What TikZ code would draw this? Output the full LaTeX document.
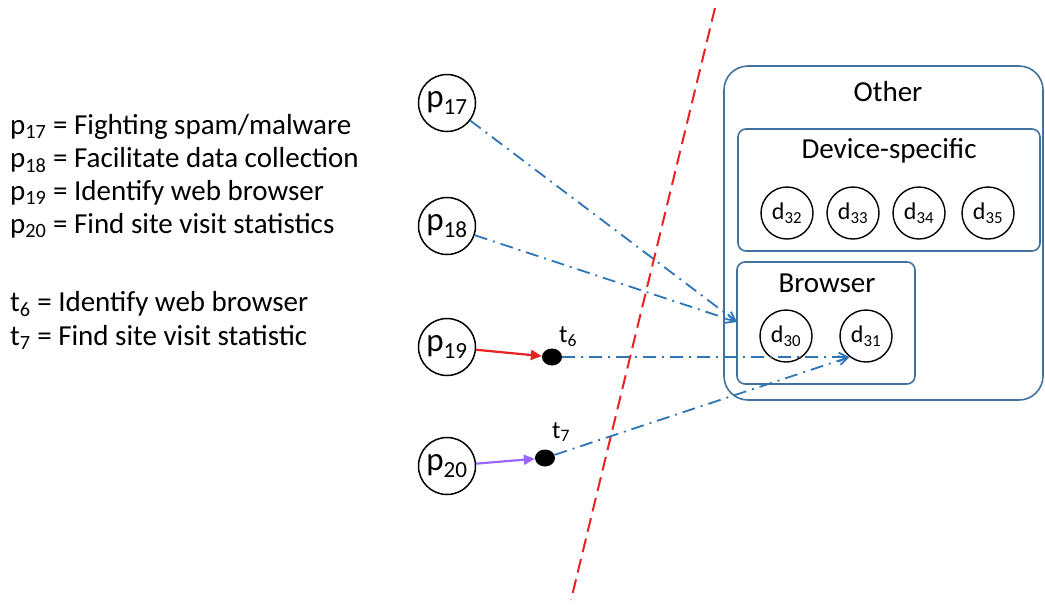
\documentclass[tikz,border=0pt]{standalone}
\usepackage{fontspec}
\setmainfont{Carlito}
\usetikzlibrary{arrows.meta,shapes.geometric}
\definecolor{boxblue}{RGB}{65,113,156}
\definecolor{lineblue}{RGB}{46,117,182}
\definecolor{redl}{RGB}{232,34,34}
\definecolor{purp}{RGB}{153,102,255}
\begin{document}
\begin{tikzpicture}[x=1pt,y=-1pt,
  pn/.style={circle,draw,line width=1.5pt,minimum size=57pt,inner sep=0pt,font=\fontsize{33}{33}\selectfont},
  dn/.style={circle,draw,line width=1.4pt,minimum size=52pt,inner sep=0pt,font=\fontsize{24}{24}\selectfont},
  tdot/.style={ellipse,fill=black,minimum width=20pt,minimum height=17pt,inner sep=0pt},
  grp/.style={draw=boxblue,line width=1.6pt,rounded corners=8pt},
  ttl/.style={font=\fontsize{29}{29}\selectfont,inner sep=0pt},
  legend/.style={anchor=base west,inner sep=0pt,font=\fontsize{29}{29}\selectfont},
  dd/.style={draw=lineblue,line width=1.8pt,dash pattern=on 13pt off 6pt on 2pt off 6pt,-{Straight Barb[length=9pt,width=9pt]}},
  tl/.style={font=\fontsize{25}{25}\selectfont,inner sep=0pt}
]
\useasboundingbox (0,0) rectangle (1045,606);
% legend
\node[legend] (l1) at (10,134) {p\textsubscript{17} = Fighting spam/malware};
\node[legend] (l2) at (10,167) {p\textsubscript{18} = Facilitate data collection};
\node[legend] (l3) at (10,200) {p\textsubscript{19} = Identify web browser};
\node[legend] (l4) at (10,233) {p\textsubscript{20} = Find site visit statistics};
\node[legend] (l5) at (10,311) {t\textsubscript{6} = Identify web browser};
\node[legend] (l6) at (10,345) {t\textsubscript{7} = Find site visit statistic};
% boxes
\draw[grp,rounded corners=24pt] (724,66) rectangle (1043,400);
\node[ttl] (other) at (888,92) {Other};
\draw[grp] (738,129) rectangle (1040,251);
\node[ttl] (devs) at (889,151) {Device-specific};
\draw[grp] (737,262) rectangle (915,384);
\node[ttl] (brws) at (827,283) {Browser};
\coordinate (brw) at (737,322);
% d nodes
\node[dn] (d32) at (787,213) {d\textsubscript{32}};
\node[dn] (d33) at (853,213) {d\textsubscript{33}};
\node[dn] (d34) at (919,213) {d\textsubscript{34}};
\node[dn] (d35) at (988,213) {d\textsubscript{35}};
\node[dn] (d30) at (786,336) {d\textsubscript{30}};
\node[dn] (d31) at (866,336) {d\textsubscript{31}};
% p nodes
\node[pn] (p17) at (447,103) {p\textsubscript{17}};
\node[pn] (p18) at (447,226) {p\textsubscript{18}};
\node[pn] (p19) at (447,347) {p\textsubscript{19}};
\node[pn] (p20) at (447,466) {p\textsubscript{20}};
% t dots
\node[tdot] (t6) at (552,357) {};
\node[tdot] (t7) at (545,458) {};
\node[tl] (t6l) at (568,337) {t\textsubscript{6}};
\node[tl] (t7l) at (561,432) {t\textsubscript{7}};
% red dashed divider
\coordinate (r1) at (715,8);
\coordinate (r2) at (571,600);
\draw[redl,line width=2pt,dash pattern=on 14pt off 7pt] (r1) -- (r2);
% connectors
\draw[dd] (p17) -- (brw);
\draw[dd] (p18) -- (brw);
\draw[dd] (t6) -- (d31.232);
\draw[dd] (t7) -- (d31.232);
\draw[redl,line width=2.2pt,-{Triangle[length=11pt,width=10pt]}] (p19) -- (t6);
\draw[purp,line width=2.2pt,-{Triangle[length=11pt,width=10pt]}] (p20) -- (t7);
\end{tikzpicture}
\end{document}
